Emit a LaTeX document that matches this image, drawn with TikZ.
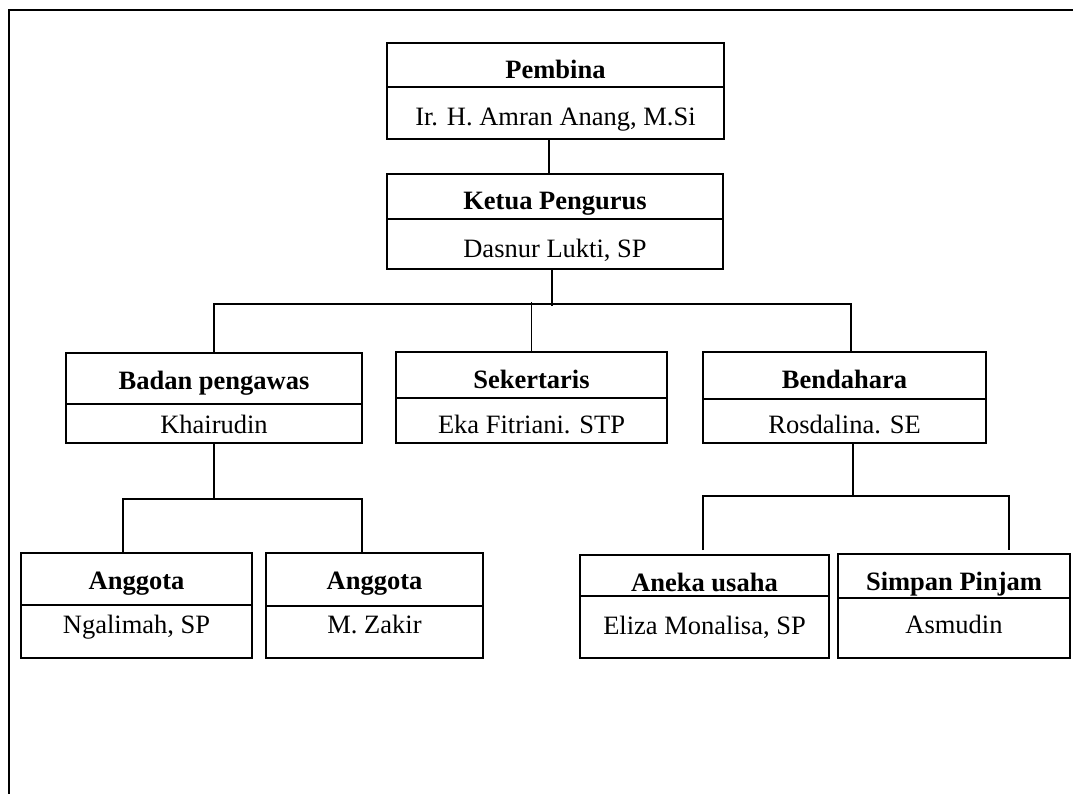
\documentclass[tikz,border=0pt]{standalone}
\usepackage{fontspec}
\setmainfont{Liberation Serif}
\usetikzlibrary{calc}
\tikzset{
  orgframe/.style={draw, line width=1.4pt, inner sep=0pt, outer sep=0pt},
  conn/.style={line width=1.4pt},
  outerframe/.style={line width=2pt},
  ttl/.style={anchor=base, font=\fontsize{26.5}{30}\selectfont\bfseries, inner sep=0pt},
  per/.style={anchor=base, font=\fontsize{26.5}{30}\selectfont, inner sep=0pt},
}
% #1 name, #2 x1, #3 x2, #4 ytop, #5 ydiv, #6 ybot, #7 title, #8 person, #9 person baseline
\newcommand\orgbox[9]{%
  \node[orgframe, minimum width={#3-#2}, minimum height={#6-#4}] (#1) at ({(#2+#3)/2},{(#4+#6)/2}) {};
  \draw[conn] (#1.west |- 0,#5) -- (#1.east |- 0,#5);
  \node[ttl] (#1-t) at ({(#2+#3)/2},{#4+36}) {#7};
  \node[per] (#1-p) at ({(#2+#3)/2},#9) {#8};
}
\begin{document}
\begin{tikzpicture}[x=1pt,y=-1pt]
\useasboundingbox (0,0) rectangle (1073,794);
% outer frame
\coordinate (fbl) at (9,794);
\coordinate (ftl) at (9,10);
\coordinate (ftr) at (1073,10);
\draw[outerframe] (fbl) -- (ftl) -- (ftr);

\orgbox{pembina}{387}{724}{43}{87}{139}{Pembina}{Ir. H. Amran Anang, M.Si}{126}
\orgbox{ketua}{387}{723}{174}{219}{269}{Ketua Pengurus}{Dasnur Lukti, SP}{258}
\orgbox{badan}{66}{362}{353}{404}{443}{Badan pengawas}{Khairudin}{433}
\orgbox{sek}{396}{667}{352}{398}{443}{Sekertaris}{Eka Fitriani. STP}{433}
\orgbox{bend}{703}{986}{352}{399}{443}{Bendahara}{Rosdalina. SE}{433}
\orgbox{angA}{21}{252}{553}{605}{658}{Anggota}{Ngalimah, SP}{633}
\orgbox{angB}{266}{483}{553}{606}{658}{Anggota}{M. Zakir}{633}
\orgbox{aneka}{580}{829}{555}{596}{658}{Aneka usaha}{Eliza Monalisa, SP}{634}
\orgbox{simpan}{838}{1070}{554}{598}{658}{Simpan Pinjam}{Asmudin}{633}

% connectors
\coordinate (bus) at (0,304);
\coordinate (busL2) at (0,499);
\coordinate (busR2) at (0,496);
\coordinate (endR2) at (0,550);

\draw[conn] ([xshift=-6.5pt]pembina.south) -- ([xshift=-6pt]ketua.north);
\draw[conn] ([xshift=-3pt]ketua.south) -- ([xshift=-3pt,yshift=-2pt]ketua.south |- bus);
\draw[conn] (badan.north) -- (badan.north |- bus) -- ([xshift=6.5pt]bend.north |- bus) -- ([xshift=6.5pt]bend.north);
\draw[conn] (sek.north) -- ([yshift=2pt]sek.north |- bus);

\draw[conn] (badan.south) -- (badan.south |- busL2);
\draw[conn] ([xshift=-13.5pt]angA.north) -- ([xshift=-13.5pt]angA.north |- busL2) -- ([xshift=-12.5pt]angB.north |- busL2) -- ([xshift=-12.5pt]angB.north);

\draw[conn] ([xshift=8.5pt]bend.south) -- ([xshift=8.5pt]bend.south |- busR2);
\draw[conn] ([xshift=-1.5pt]aneka.north |- endR2) -- ([xshift=-1.5pt]aneka.north |- busR2) -- ([xshift=55pt]simpan.north |- busR2) -- ([xshift=55pt]simpan.north |- endR2);
\end{tikzpicture}
\end{document}
